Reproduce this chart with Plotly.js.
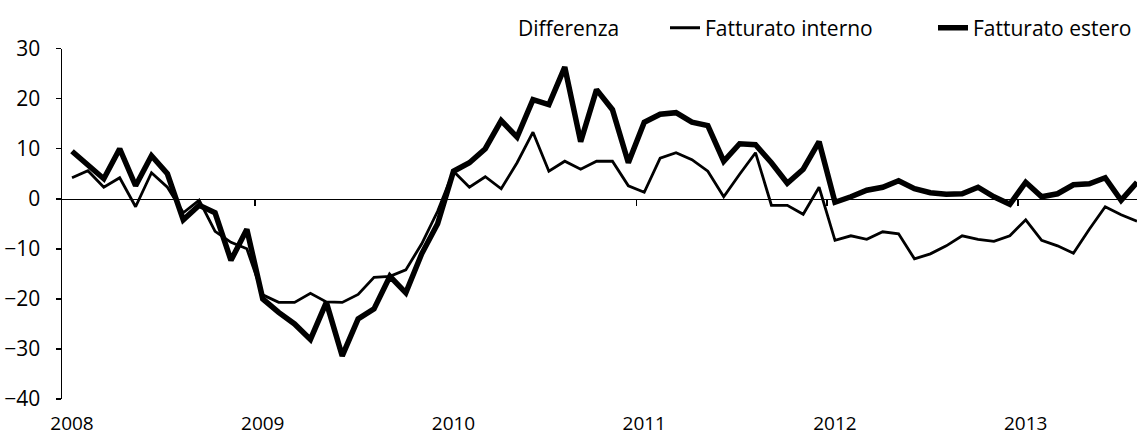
<!DOCTYPE html>
<html>
<head>
<meta charset="utf-8">
<script src="https://cdn.plot.ly/plotly-3.0.1.min.js"></script>
<style>html,body{margin:0;padding:0;background:#fff}#chart{width:1137px;height:439px}</style>
</head>
<body>
<div id="chart"></div>
<script>
// Monthly observations, Jan 2008 - Aug 2013 (index 0 = Jan 2008)
const months = Array.from({length: 68}, (_, i) => i);
const yearTickVals = [0, 12, 24, 36, 48, 60];
const yearLabels = ["2008", "2009", "2010", "2011", "2012", "2013"];
const yearBoundaries = [11.5, 23.5, 35.5, 47.5, 59.5];
const yTicks = [-40, -30, -20, -10, 0, 10, 20, 30];

const fatturatoInterno = [
  4.2, 5.6, 2.3, 4.2, -1.6, 5.2, 2.3, -2.8, -0.3, -6.5, -8.7, -10.0,
  -19.2, -20.7, -20.7, -18.9, -20.6, -20.7, -19.1, -15.7, -15.5, -14.2, -9.0, -2.5,
  5.5, 2.3, 4.4, 2.0, 7.2, 13.3, 5.5, 7.5, 5.9, 7.5, 7.5, 2.6,
  1.3, 8.1, 9.2, 7.8, 5.5, 0.4, 4.9, 9.2, -1.3, -1.3, -3.1, 2.3,
  -8.3, -7.4, -8.1, -6.6, -7.0, -12.0, -11.0, -9.4, -7.4, -8.1, -8.5, -7.4,
  -4.2, -8.3, -9.4, -10.9, -6.1, -1.6, -3.2, -4.5
];
const fatturatoEstero = [
  9.5, 6.7, 4.0, 10.0, 2.6, 8.6, 5.0, -4.2, -1.3, -2.8, -12.3, -6.1,
  -20.0, -22.7, -25.0, -28.1, -20.7, -31.4, -24.0, -22.0, -15.5, -18.8, -11.0, -5.0,
  5.5, 7.2, 10.0, 15.6, 12.3, 19.8, 18.8, 26.3, 11.4, 21.8, 17.8, 7.2,
  15.3, 16.9, 17.2, 15.3, 14.6, 7.5, 11.0, 10.8, 7.2, 3.1, 5.9, 11.4,
  -0.7, 0.4, 1.7, 2.3, 3.6, 2.0, 1.2, 0.9, 1.0, 2.3, 0.4, -1.1,
  3.3, 0.4, 1.0, 2.8, 3.0, 4.2, -0.3, 3.3
];
// "Differenza" has a legend entry but no visible mark in the reference
const differenzaX = [0];
const differenzaY = [null];

const FONT = {family: "Open Sans, sans-serif", size: 21, color: "#000"};
const XFONT = {family: "Open Sans, sans-serif", size: 19, color: "#000"};
const xRange = [-0.63, 67.0];

const traces = [
  {x: differenzaX, y: differenzaY, name: "Differenza", type: "scatter", mode: "lines",
   line: {color: "rgba(0,0,0,0)", width: 0}, xaxis: "x2", legend: "legend",
   showlegend: true, hoverinfo: "skip"},
  {x: months, y: fatturatoInterno, name: "Fatturato interno", type: "scatter", mode: "lines",
   line: {color: "#000", width: 2.8}, legend: "legend2"},
  {x: months, y: fatturatoEstero, name: "Fatturato estero", type: "scatter", mode: "lines",
   line: {color: "#000", width: 5.5}, legend: "legend3"}
];

const legendBase = {orientation: "h", xref: "container", yref: "container",
  xanchor: "left", yanchor: "middle", y: 0.936, font: FONT,
  bgcolor: "rgba(0,0,0,0)", borderwidth: 0};

const layout = {
  width: 1137, height: 439,
  margin: {l: 62, r: 0, t: 39, b: 40, pad: 0},
  paper_bgcolor: "#fff", plot_bgcolor: "#fff",
  font: FONT,
  showlegend: true,
  legend: Object.assign({}, legendBase, {x: 478 / 1137}),
  legend2: Object.assign({}, legendBase, {x: 665 / 1137}),
  legend3: Object.assign({}, legendBase, {x: 933 / 1137}),
  xaxis: {
    range: xRange, showgrid: false, zeroline: false, showline: false,
    ticks: "", tickmode: "array", tickvals: yearTickVals, ticktext: yearLabels,
    ticklabelstandoff: 11, tickfont: XFONT
  },
  xaxis2: {
    overlaying: "x", anchor: "free", position: 40 / 70, side: "bottom",
    range: xRange, showgrid: false, zeroline: false,
    showline: true, linecolor: "#000", linewidth: 1.5,
    ticks: "outside", ticklen: 6, tickwidth: 1.5, tickcolor: "#000",
    tickmode: "array", tickvals: yearBoundaries, showticklabels: false
  },
  yaxis: {
    range: [-40, 30], showgrid: false, zeroline: false,
    showline: true, linecolor: "#000", linewidth: 1.5,
    ticks: "outside", ticklen: 5, tickwidth: 1.5, tickcolor: "#000",
    tickmode: "array", tickvals: yTicks,
    ticklabelstandoff: 11, tickfont: FONT
  }
};

Plotly.newPlot("chart", traces, layout, {displayModeBar: false, staticPlot: true});
</script>
</body>
</html>
